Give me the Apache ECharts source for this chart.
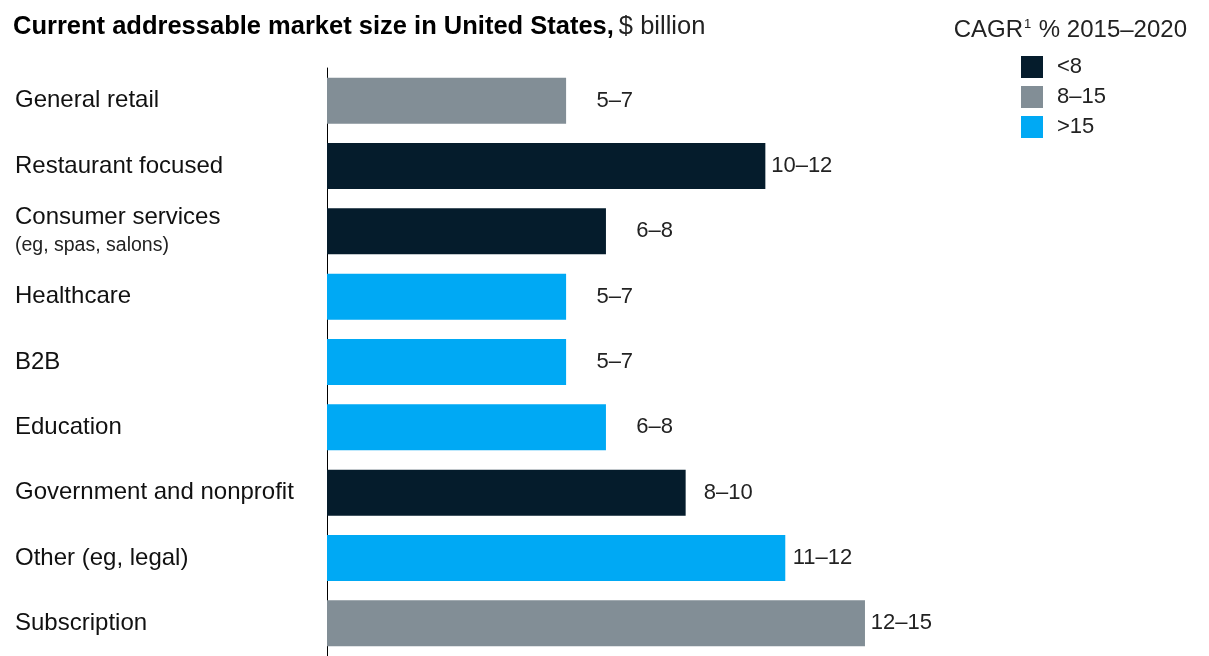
<!DOCTYPE html>
<html>
<head>
<meta charset="utf-8">
<script src="https://cdn.jsdelivr.net/npm/echarts@6/dist/echarts.min.js"></script>
<style>
  html, body { margin: 0; padding: 0; background: #fff; }
  #chart { width: 1209px; height: 656px; }
</style>
</head>
<body>
<div id="chart"></div>
<script>
// Market segments, top to bottom
const categories = [
  'General retail', 'Restaurant focused', 'Consumer services', 'Healthcare', 'B2B',
  'Education', 'Government and nonprofit', 'Other (eg, legal)', 'Subscription'
];
// Midpoint of each range, $ billion
const values = [6, 11, 7, 6, 6, 7, 9, 11.5, 13.5];
// Range shown next to each bar
const rangeLabels = ['5–7', '10–12', '6–8', '5–7', '5–7', '6–8', '8–10', '11–12', '12–15'];
// CAGR bucket for each segment
const growthGroup = ['8–15', '<8', '<8', '>15', '>15', '>15', '<8', '>15', '8–15'];

const groups = ['<8', '8–15', '>15'];
const groupColors = { '<8': '#051c2c', '8–15': '#828e96', '>15': '#00a9f4' };

const FONT = '"Liberation Sans", Arial, sans-serif';

const chart = echarts.init(document.getElementById('chart'));

// One series per growth bucket, overlaid on the same category band
const series = groups.map(g => ({
  name: g,
  type: 'bar',
  barWidth: 46,
  barGap: '-100%',
  itemStyle: { color: groupColors[g] },
  data: categories.map((c, i) => growthGroup[i] === g ? values[i] : null),
  label: {
    show: true,
    position: 'right',
    distance: 67,
    align: 'right',
    fontFamily: FONT,
    fontSize: 22,
    color: '#222',
    formatter: p => rangeLabels[p.dataIndex]
  }
}));

chart.setOption({
  animation: false,
  title: [
    {
      left: 8, top: 9,
      text: '{b|Current addressable market size in United States,} {r|$ billion}',
      textStyle: {
        rich: {
          b: { fontFamily: FONT, fontSize: 25.5, fontWeight: 'bold', color: '#000' },
          r: { fontFamily: FONT, fontSize: 25.5, fontWeight: 'normal', color: '#222' }
        }
      }
    },
    {
      right: 17, top: 13,
      text: '{a|CAGR}{s|1}{a| % 2015–2020}',
      textStyle: {
        rich: {
          a: { fontFamily: FONT, fontSize: 24, fontWeight: 'normal', color: '#222' },
          s: { fontFamily: FONT, fontSize: 13, fontWeight: 'normal', color: '#222', verticalAlign: 'top', padding: [0, 1, 9, 1] }
        }
      }
    }
  ],
  legend: {
    orient: 'vertical',
    left: 1021, top: 56,
    padding: 0,
    itemWidth: 22, itemHeight: 22, itemGap: 8,
    icon: 'rect',
    data: groups,
    textStyle: { fontFamily: FONT, fontSize: 22, color: '#222', padding: [0, 0, 0, 9] }
  },
  grid: { left: 327, top: 68, width: 797, height: 594 },
  xAxis: {
    type: 'value', min: 0, max: 20,
    show: false
  },
  yAxis: {
    type: 'category',
    inverse: true,
    data: categories,
    axisLine: { show: true, lineStyle: { color: '#000', width: 1 } },
    axisTick: { show: false },
    axisLabel: {
      align: 'left',
      margin: 312,
      fontFamily: FONT,
      fontSize: 24,
      color: '#111',
      formatter: v => v === 'Consumer services'
        ? '{m|Consumer services}\n{s|(eg, spas, salons)}'
        : v,
      rich: {
        m: { fontFamily: FONT, fontSize: 24, color: '#111', lineHeight: 28 },
        s: { fontFamily: FONT, fontSize: 19.5, color: '#222', lineHeight: 27 }
      }
    }
  },
  series: series
});
</script>
</body>
</html>
